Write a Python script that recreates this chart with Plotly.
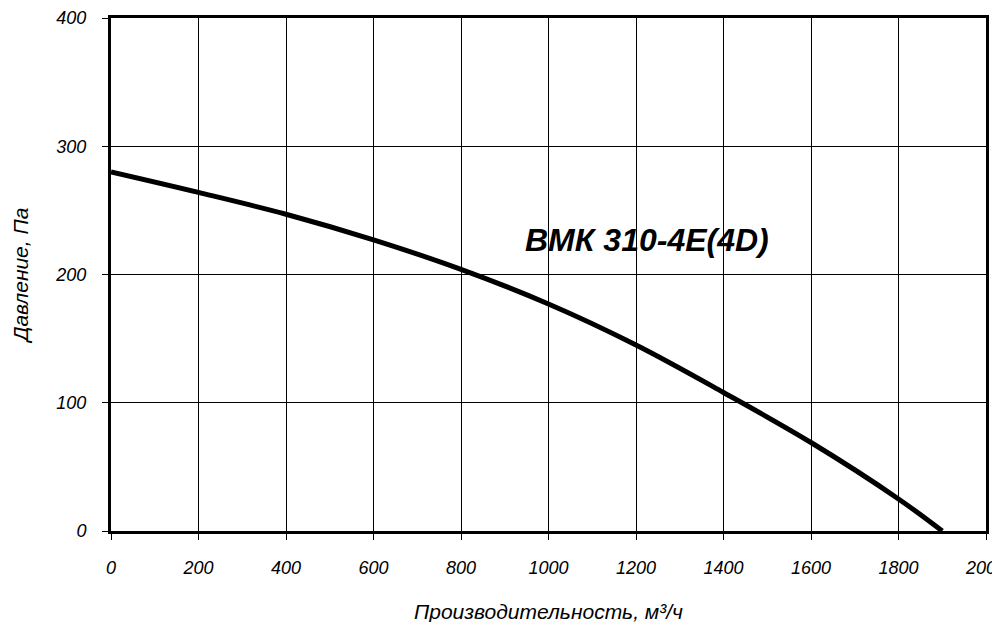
import plotly.graph_objects as go

flow = [0, 200, 400, 600, 800, 1000, 1200, 1400, 1600, 1800, 1900]
pressure = [280, 264, 247, 227, 204, 177, 145, 108, 69, 25, 0]
x_ticks = list(range(0, 2001, 200))
y_ticks = [0, 100, 200, 300, 400]

fig = go.Figure()
fig.add_trace(go.Scatter(x=flow, y=pressure, mode="lines", line=dict(color="black", width=5, shape="spline"), showlegend=False))
fig.add_annotation(x=1225, y=227, text="<b><i>ВМК 310-4E(4D)</i></b>", showarrow=False,
                   font=dict(family="Liberation Sans, Arial", size=32, color="black"))
font = dict(family="Liberation Sans, Arial", size=18, color="black")
fig.update_layout(
    width=1000, height=622, margin=dict(l=103, r=22, t=10, b=99, autoexpand=False),
    plot_bgcolor="white", paper_bgcolor="white", font=font,
    xaxis=dict(range=[0, 2000], tickvals=x_ticks, ticktext=[f"<i>{v}</i>" for v in x_ticks],
               showgrid=True, gridcolor="black", gridwidth=1, automargin=False,
               showline=True, linecolor="black", linewidth=3, mirror=True, ticks="outside", ticklen=6,
               tickcolor="black", zeroline=False,
               title=dict(text="<i>Производительность, м³/ч</i>", font=dict(size=21), standoff=28),
               tickfont=dict(size=18), ticklabelstandoff=12),
    yaxis=dict(range=[0, 400], tickvals=y_ticks, ticktext=[f"<i>{v}</i>" for v in y_ticks],
               showgrid=True, gridcolor="black", gridwidth=1, automargin=False,
               showline=True, linecolor="black", linewidth=3, mirror=True, ticks="outside", ticklen=6,
               tickcolor="black", zeroline=False,
               title=dict(text="<i>Давление, Па</i>", font=dict(size=21), standoff=22),
               tickfont=dict(size=18), ticklabelstandoff=12),
)
fig.write_html("out.html")
